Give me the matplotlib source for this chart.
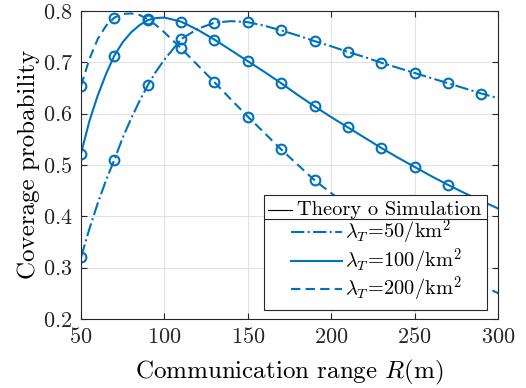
import matplotlib
matplotlib.use("Agg")
import matplotlib.pyplot as plt
from matplotlib.lines import Line2D

plt.rcParams['font.family'] = 'serif'
plt.rcParams['font.serif'] = ['cmr10']
plt.rcParams['mathtext.fontset'] = 'cm'
plt.rcParams['axes.formatter.use_mathtext'] = True

BLUE = '#0072BD'

# theory curves (5 m steps up to 100, then 10 m)
r_theory = [50, 55, 60, 65, 70, 75, 80, 85, 90, 95, 100, 110, 120, 130, 140,
            150, 160, 170, 180, 190, 200, 210, 220, 230, 240, 250, 260, 270,
            280, 290, 300]
theory_50 = [0.320, 0.375, 0.425, 0.470, 0.510, 0.553, 0.590, 0.624, 0.655,
             0.682, 0.705, 0.745, 0.765, 0.777, 0.780, 0.778, 0.771, 0.762,
             0.752, 0.741, 0.731, 0.720, 0.710, 0.699, 0.689, 0.679, 0.669,
             0.659, 0.649, 0.639, 0.630]
theory_100 = [0.522, 0.585, 0.635, 0.677, 0.713, 0.739, 0.758, 0.772, 0.782,
              0.786, 0.787, 0.779, 0.763, 0.744, 0.723, 0.702, 0.681, 0.659,
              0.636, 0.614, 0.593, 0.573, 0.553, 0.533, 0.514, 0.496, 0.478,
              0.461, 0.445, 0.430, 0.415]
theory_200 = [0.654, 0.706, 0.745, 0.771, 0.787, 0.794, 0.795, 0.792, 0.784,
              0.772, 0.758, 0.727, 0.694, 0.661, 0.627, 0.594, 0.562, 0.530,
              0.500, 0.470, 0.445, 0.420, 0.397, 0.375, 0.355, 0.335, 0.317,
              0.300, 0.283, 0.266, 0.250]

# simulation points, every 20 m
r_sim = [50, 70, 90, 110, 130, 150, 170, 190, 210, 230, 250, 270, 290]
sim_50 = [0.320, 0.510, 0.655, 0.745, 0.777, 0.778, 0.762, 0.741, 0.720,
          0.699, 0.679, 0.659, 0.639]
sim_100 = [0.522, 0.713, 0.782, 0.779, 0.744, 0.702, 0.659, 0.614, 0.573,
           0.533, 0.496, 0.461, 0.430]
sim_200 = [0.654, 0.787, 0.784, 0.727, 0.661, 0.594, 0.530, 0.470, 0.420,
           0.375, 0.335, 0.300, 0.266]

labels = [r'$\lambda_T\!=\!50/\mathrm{km}^2$',
          r'$\lambda_T\!=\!100/\mathrm{km}^2$',
          r'$\lambda_T\!=\!200/\mathrm{km}^2$']
styles = ['-.', '-', '--']

fig = plt.figure(figsize=(5.26, 3.88), dpi=100)
ax = fig.add_axes([0.154, 0.178, 0.793, 0.794])

handles = []
for th, sim, ls in zip([theory_50, theory_100, theory_200],
                       [sim_50, sim_100, sim_200], styles):
    h, = ax.plot(r_theory, th, ls, color=BLUE, lw=1.5)
    if ls == '--':
        h.set_dashes([4.5, 2.5])
    ax.plot(r_sim, sim, 'o', color=BLUE, mfc='none', ms=7, mew=1.5)
    handles.append(h)

ax.set_xlim(50, 300)
ax.set_ylim(0.2, 0.8)
ax.set_xticks([50, 100, 150, 200, 250, 300])
ax.set_yticks([0.2, 0.3, 0.4, 0.5, 0.6, 0.7, 0.8])
ax.grid(True, color='#e3e3e3', lw=0.8)
ax.set_axisbelow(True)
ax.tick_params(direction='in', top=True, right=True, length=4,
               labelsize=16, colors='#262626')
ax.tick_params(axis='y', pad=6)
ax.tick_params(axis='x', pad=6)
for s in ax.spines.values():
    s.set_color('#262626')
    s.set_linewidth(0.8)

ax.set_xlabel(r'Communication range $R$(m)', fontsize=18, labelpad=8)
ax.set_ylabel('Coverage probability', fontsize=18, labelpad=2)

# legend: header row "Theory o Simulation" as title, entries below
leg = ax.legend(handles, labels, title='    Theory o Simulation',
                title_fontsize=14.7, fontsize=14.7,
                loc='lower right', bbox_to_anchor=(0.974, 0.029),
                borderaxespad=0, handlelength=2.5, handletextpad=0.15,
                labelspacing=-0.03, borderpad=0.28, fancybox=False,
                framealpha=1, edgecolor='#262626')
leg.get_frame().set_linewidth(0.8)

fig.canvas.draw()
inv = fig.transFigure.inverted()
lb = leg.get_window_extent()
tb = leg.get_title().get_window_extent()
e1 = leg.get_texts()[0].get_window_extent()
# black "Theory" sample line in front of the header text
yc = (tb.y0 + tb.y1) / 2
p0 = inv.transform((lb.x0 + 4, yc))
p1 = inv.transform((lb.x0 + 28, yc))
fig.add_artist(Line2D([p0[0], p1[0]], [p0[1], p1[1]], color='black', lw=0.8,
                      transform=fig.transFigure, zorder=10))
# divider between the header and the entries
ymid = (tb.y0 + e1.y1) / 2
d0 = inv.transform((lb.x0, ymid))
d1 = inv.transform((lb.x1, ymid))
fig.add_artist(Line2D([d0[0], d1[0]], [d0[1], d1[1]], color='#262626',
                      lw=0.8, transform=fig.transFigure, zorder=10))

fig.savefig('out.png', dpi=100)
